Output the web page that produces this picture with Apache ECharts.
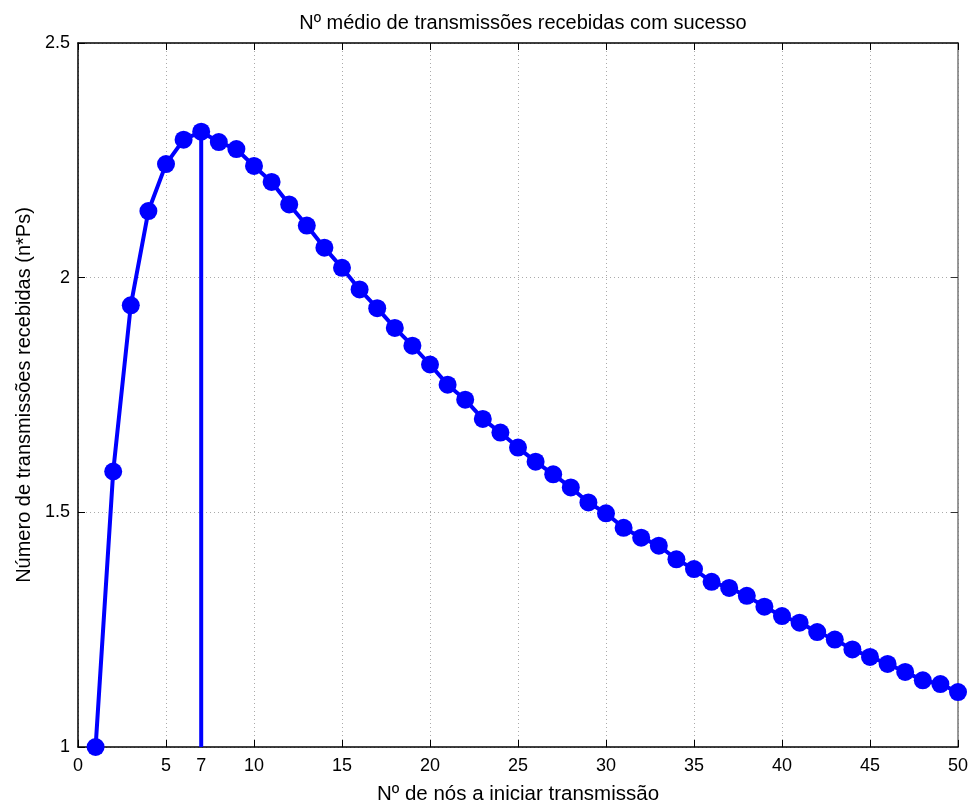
<!DOCTYPE html>
<html>
<head>
<meta charset="utf-8">
<title>Nº médio de transmissões recebidas com sucesso</title>
<script src="https://cdn.jsdelivr.net/npm/echarts@6/dist/echarts.min.js"></script>
<style>
  html, body { margin: 0; padding: 0; background: #fff; }
  #chart { width: 970px; height: 803px; }
</style>
</head>
<body>
<div id="chart"></div>
<script>
// dados
var nosList = [];
for (var i = 1; i <= 50; i++) { nosList.push(i); }
var sucessoList = [
  1.000, 1.587, 1.941, 2.142, 2.242, 2.294, 2.311, 2.289, 2.274, 2.238,
  2.204, 2.156, 2.111, 2.064, 2.021, 1.975, 1.935, 1.893, 1.855, 1.815,
  1.772, 1.740, 1.699, 1.670, 1.638, 1.608, 1.581, 1.553, 1.521, 1.498,
  1.467, 1.446, 1.429, 1.400, 1.379, 1.352, 1.339, 1.322, 1.299, 1.279,
  1.265, 1.245, 1.229, 1.208, 1.192, 1.177, 1.160, 1.142, 1.134, 1.117
];
var xTicks = [0, 5, 10, 15, 20, 25, 30, 35, 40, 45, 50];
var xLabels = [0, 5, 7, 10, 15, 20, 25, 30, 35, 40, 45, 50];
var yTicks = [1, 1.5, 2, 2.5];
var picoN = 7;

var fonte = 'Liberation Sans, Arial, sans-serif';

// pontos (n, n*Ps)
var pontos = [];
for (var i = 0; i < nosList.length; i++) {
  pontos.push([nosList[i], sucessoList[i]]);
}
// linha vertical no máximo
var linhaPico = [[picoN, yTicks[0]], [picoN, sucessoList[nosList.indexOf(picoN)]]];

var myChart = echarts.init(document.getElementById('chart'));
var option = {
  backgroundColor: '#fff',
  animation: false,
  title: {
    text: 'Nº médio de transmissões recebidas com sucesso',
    left: 518,
    top: 8,
    textAlign: 'center',
    textStyle: { fontFamily: fonte, fontSize: 20, fontWeight: 'normal', color: '#000' }
  },
  grid: { left: 78, right: 12, top: 43, bottom: 56, containLabel: false, outerBoundsMode: 'none' },
  xAxis: [{
    type: 'value',
    min: 0, max: 50, interval: 5,
    name: 'Nº de nós a iniciar transmissão',
    nameLocation: 'middle',
    nameGap: 37,
    nameTextStyle: { fontFamily: fonte, fontSize: 20.5, color: '#000' },
    axisLine: { onZero: false, lineStyle: { color: '#000', width: 1.5 } },
    axisTick: { inside: true, length: 7, customValues: xTicks, lineStyle: { color: '#000' } },
    axisLabel: { customValues: xLabels, fontFamily: fonte, fontSize: 18, color: '#000', margin: 10 },
    splitLine: { show: true, lineStyle: { color: '#aaa', type: [1, 3], width: 1 } }
  }, {
    type: 'value',
    position: 'top',
    min: 0, max: 50, interval: 5,
    axisLine: { onZero: false, lineStyle: { color: '#000', width: 1.5 } },
    axisTick: { inside: true, length: 7, lineStyle: { color: '#000' } },
    axisLabel: { show: false },
    splitLine: { show: false }
  }],
  yAxis: [{
    type: 'value',
    min: 1, max: 2.5, interval: 0.5,
    name: 'Número de transmissões recebidas (n*Ps)',
    nameLocation: 'middle',
    nameGap: 44,
    nameTextStyle: { fontFamily: fonte, fontSize: 20, color: '#000' },
    axisLine: { show: true, onZero: false, lineStyle: { color: '#000', width: 1.5 } },
    axisTick: { show: true, inside: true, length: 7, lineStyle: { color: '#000' } },
    axisLabel: { fontFamily: fonte, fontSize: 18, color: '#000', margin: 8 },
    splitLine: { show: true, lineStyle: { color: '#aaa', type: [1, 3], width: 1 } }
  }, {
    type: 'value',
    position: 'right',
    min: 1, max: 2.5, interval: 0.5,
    axisLine: { show: true, onZero: false, lineStyle: { color: '#777', width: 1.5 } },
    axisTick: { show: true, inside: true, length: 7, lineStyle: { color: '#333' } },
    axisLabel: { show: false },
    splitLine: { show: false }
  }],
  series: [{
    type: 'line',
    data: linhaPico,
    symbol: 'none',
    clip: false,
    lineStyle: { color: '#0000ff', width: 4 },
    z: 3
  }, {
    type: 'line',
    data: pontos,
    symbol: 'circle',
    symbolSize: 18,
    clip: false,
    itemStyle: { color: '#0000ff' },
    lineStyle: { color: '#0000ff', width: 4 },
    z: 4
  }]
};
myChart.setOption(option);
</script>
</body>
</html>
